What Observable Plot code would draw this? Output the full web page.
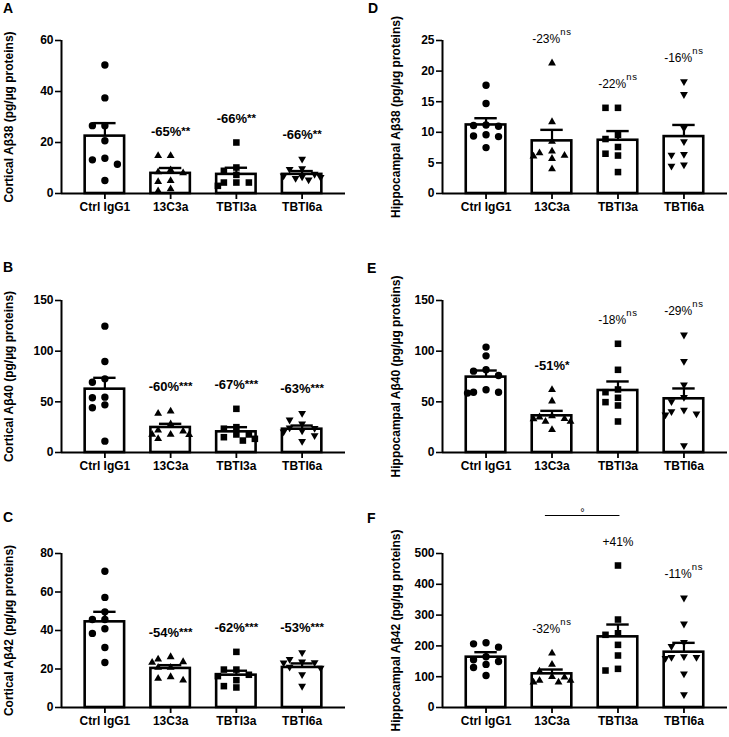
<!DOCTYPE html>
<html><head><meta charset="utf-8">
<script src="https://cdn.jsdelivr.net/npm/d3@7"></script>
<script src="https://cdn.jsdelivr.net/npm/@observablehq/plot@0.6"></script>
<style>
body{margin:0;background:#fff;}
#fig{position:relative;width:729px;height:737px;background:#fff;font-family:Arial,"Liberation Sans",sans-serif;color:#000;}
.panel{position:absolute;}
.letter{position:absolute;font-weight:bold;font-size:14px;line-height:14px;}
</style></head><body><div id="fig"></div>
<script>
// ---------- data ----------
const groups = ["Ctrl IgG1", "13C3a", "TBTI3a", "TBTI6a"];

// Panel A: Cortical Aβ38
const cortex38 = [
  [50.4, 37.5, 26.6, 26.6, 20.7, 13.8, 13.2, 11.5, 5.1],
  [14.8, 14.8, 9.2, 8.4, 8.0, 5.0, 4.6, 1.8, 1.0],
  [20.0, 10.2, 8.9, 7.3, 4.3, 4.3, 4.3, 3.0],
  [13.5, 9.8, 9.5, 7.6, 7.0, 6.6, 6.4, 6.0, 5.4]
];
const cortex38Mean = [22.5, 7.9, 7.5, 7.5];
const cortex38Sem = [5.1, 2.1, 2.6, 1.3];
const cortex38Pct = ["", "-65%", "-66%", "-66%"];
const cortex38Sig = ["", "**", "**", "**"];

// Panel B: Cortical Aβ40
const cortex40 = [
  [124.7, 89.8, 72.7, 69.4, 54.6, 54.0, 47.0, 44.1, 11.2],
  [40.8, 38.5, 28.0, 22.0, 21.0, 17.8, 17.8, 17.5, 13.5],
  [43.1, 25.0, 23.5, 17.8, 17.8, 15.1, 13.5, 11.8],
  [38.8, 32.2, 28.3, 24.5, 24.0, 21.5, 20.5, 16.8, 11.2]
];
const cortex40Mean = [62.5, 24.7, 20.4, 23.0];
const cortex40Sem = [11.2, 3.6, 4.6, 3.6];
const cortex40Pct = ["", "-60%", "-67%", "-63%"];
const cortex40Sig = ["", "***", "***", "***"];

// Panel C: Cortical Aβ42
const cortex42 = [
  [70.8, 57.2, 49.7, 45.7, 45.7, 40.9, 38.5, 31.2, 23.4],
  [26.3, 25.1, 23.7, 23.4, 20.8, 20.8, 15.9, 15.1, 14.2],
  [28.9, 19.7, 19.7, 17.0, 16.3, 14.2, 11.1, 10.4],
  [28.6, 25.1, 23.7, 23.4, 23.2, 21.0, 20.5, 17.1, 11.1]
];
const cortex42Mean = [44.5, 20.3, 16.8, 20.8];
const cortex42Sem = [5.2, 1.7, 2.3, 2.1];
const cortex42Pct = ["", "-54%", "-62%", "-53%"];
const cortex42Sig = ["", "***", "***", "***"];

// Panel D: Hippocampal Aβ38
const hippo38 = [
  [17.7, 14.7, 11.2, 11.1, 11.0, 9.6, 9.4, 9.3, 7.5],
  [21.3, 11.7, 8.5, 6.9, 6.6, 6.2, 6.1, 5.7, 4.0],
  [14.0, 14.0, 9.6, 8.9, 7.6, 6.5, 6.2, 3.5],
  [18.3, 16.2, 10.7, 8.5, 6.4, 6.3, 4.7, 4.5]
];
const hippo38Mean = [11.2, 8.6, 8.7, 9.3];
const hippo38Sem = [1.1, 1.8, 1.5, 1.9];
const hippo38Pct = ["", "-23%", "-22%", "-16%"];
const hippo38Sig = ["", "ns", "ns", "ns"];

// Panel E: Hippocampal Aβ40
const hippo40 = [
  [104.0, 95.4, 81.6, 80.3, 76.0, 61.9, 59.5, 59.5, 58.6],
  [61.9, 50.7, 36.0, 34.9, 33.2, 33.0, 30.6, 30.6, 22.4],
  [107.3, 81.6, 62.2, 59.5, 54.0, 49.7, 46.4, 30.6],
  [116.1, 90.1, 66.8, 54.6, 50.3, 42.0, 40.5, 38.2, 37.2, 6.9]
];
const hippo40Mean = [74.4, 36.2, 61.2, 53.0];
const hippo40Sem = [6.5, 4.9, 8.9, 10.2];
const hippo40Pct = ["", "-51%", "-18%", "-29%"];
const hippo40Sig = ["", "*", "ns", "ns"];

// Panel F: Hippocampal Aβ42
const hippo42 = [
  [210, 206.7, 195.9, 165, 155, 149.3, 140, 130, 103.9],
  [176.4, 139.6, 118, 100, 98, 87.6, 87.6, 82.2, 82.2],
  [461, 285.6, 241, 236, 203.4, 168.8, 125.5, 120.1],
  [356, 271.6, 212, 199, 165.5, 163.4, 163.4, 160, 109.3, 42.2]
];
const hippo42Mean = [163.4, 109.3, 229.4, 179.6];
const hippo42Sem = [16.2, 14.0, 40.0, 30.3];
const hippo42Pct = ["", "-32%", "+41%", "-11%"];
const hippo42Sig = ["", "ns", "", "ns"];
const hippo42Bracket = [{from: "13C3a", to: "TBTI3a", label: "°"}];

const panelLetters = ["A", "B", "C", "D", "E", "F"];
const panelTitles = [
  "Cortical Aβ38 (pg/µg proteins)",
  "Cortical Aβ40 (pg/µg proteins)",
  "Cortical Aβ42 (pg/µg proteins)",
  "Hippocampal Aβ38 (pg/µg proteins)",
  "Hippocampal Aβ40 (pg/µg proteins)",
  "Hippocampal Aβ42 (pg/µg proteins)"
];
const panelTicks = [
  [0, 20, 40, 60],
  [0, 50, 100, 150],
  [0, 20, 40, 60, 80],
  [0, 5, 10, 15, 20, 25],
  [0, 50, 100, 150],
  [0, 100, 200, 300, 400, 500]
];
const panelValues = [cortex38, cortex40, cortex42, hippo38, hippo40, hippo42];
const panelMeans = [cortex38Mean, cortex40Mean, cortex42Mean, hippo38Mean, hippo40Mean, hippo42Mean];
const panelSems = [cortex38Sem, cortex40Sem, cortex42Sem, hippo38Sem, hippo40Sem, hippo42Sem];
const panelPcts = [cortex38Pct, cortex40Pct, cortex42Pct, hippo38Pct, hippo40Pct, hippo42Pct];
const panelSigs = [cortex38Sig, cortex40Sig, cortex42Sig, hippo38Sig, hippo40Sig, hippo42Sig];
const panelBrackets = [[], [], [], [], [], hippo42Bracket];

// ---------- layout / style ----------
const FONT = "Arial, 'Liberation Sans', sans-serif";
const colLeft = [0, 365], colML = [61, 77], colMR = [19, 2], colTitleDx = [-52, -46];
const rowTop = [0, 245, 490], rowH = [245, 245, 247], rowMT = [40, 55, 63], rowFH = [153, 152, 154];
const letterPos = [[3, 1], [3, 260], [3, 510], [368, 1], [367, 261], [367, 511]];
const xDomain = [-0.66, 3.66];
const barHalf = 0.3, capHalf = 0.17;
const candidatePx = [0, -12.5, 12.5, -18.5, 18.5, -6.5, 6.5];

const sqrt3 = Math.sqrt(3);
const triUp = {draw(ctx, size) { size *= 0.62; const y = -Math.sqrt(size / (sqrt3 * 3)); ctx.moveTo(0, y * 2); ctx.lineTo(-sqrt3 * y, -y); ctx.lineTo(sqrt3 * y, -y); ctx.closePath(); }};
const triDown = {draw(ctx, size) { size *= 0.62; const y = -Math.sqrt(size / (sqrt3 * 3)); ctx.moveTo(0, -y * 2); ctx.lineTo(-sqrt3 * y, y); ctx.lineTo(sqrt3 * y, y); ctx.closePath(); }};
const symbols = [d3.symbolCircle, triUp, d3.symbolSquare, triDown];

// GraphPad-like scatter: place each point at the first horizontal slot where it does not overlap
function scatterOffsets(vals, pxPerUnit) {
  const order = d3.range(vals.length).sort((a, b) => vals[b] - vals[a]);
  const placed = [], off = new Array(vals.length).fill(0);
  for (const i of order) {
    const py = vals[i] * pxPerUnit;
    let best = 0, bestD = -1;
    for (const cx of candidatePx) {
      const d = placed.length ? d3.min(placed, q => Math.hypot(q.x - cx, q.y - py)) : Infinity;
      if (d >= 7.2) { best = cx; bestD = d; break; }
      if (d > bestD) { bestD = d; best = cx; }
    }
    off[i] = best; placed.push({x: best, y: py});
  }
  return off;
}

const fig = document.getElementById("fig");

panelLetters.forEach((letter, p) => {
  const c = p < 3 ? 0 : 1, r = p % 3;
  const W = 364, H = rowH[r], mt = rowMT[r], fh = rowFH[r], mb = H - mt - fh;
  const ticks = panelTicks[p], ymax = ticks[ticks.length - 1];
  const vals = panelValues[p];
  const pxPerUnit = fh / ymax;
  const pxPerX = (W - colML[c] - colMR[c]) / (xDomain[1] - xDomain[0]);

  const pts = [];
  vals.forEach((vs, gi) => {
    const off = scatterOffsets(vs, pxPerUnit);
    vs.forEach((v, j) => pts.push({g: groups[gi], v, xo: gi + off[j] / pxPerX}));
  });
  const bars = groups.map((g, gi) => ({g, i: gi, mean: panelMeans[p][gi], sem: panelSems[p][gi]}));
  const ann = groups.map((g, gi) => ({i: gi, pct: panelPcts[p][gi], sig: panelSigs[p][gi], top: d3.max(vals[gi])}))
    .filter(d => d.pct);
  const annText = d => d.sig ? d.pct + "^" + d.sig : d.pct;
  const isBold = d => /\*/.test(d.sig);
  const brackets = panelBrackets[p].map(b => {
    const i1 = groups.indexOf(b.from), i2 = groups.indexOf(b.to);
    return {x1: i1 - 0.1, x2: i2 + 0.03, xm: (i1 + i2) / 2 - 0.04, y: Math.max(d3.max(vals[i1]), d3.max(vals[i2])), label: b.label};
  });

  const svg = Plot.plot({
    width: W, height: H,
    marginLeft: colML[c], marginRight: colMR[c], marginTop: mt, marginBottom: mb,
    style: {fontFamily: FONT, fontSize: "12px", background: "white", overflow: "visible", color: "black"},
    x: {domain: xDomain},
    y: {domain: [0, ymax]},
    symbol: {domain: groups, range: symbols},
    marks: [
      Plot.rectY(bars, {x1: d => d.i - barHalf, x2: d => d.i + barHalf, y1: 0, y2: "mean", fill: "white", stroke: "black", strokeWidth: 2.6}),
      Plot.ruleX(bars, {x: "i", y1: "mean", y2: d => d.mean + d.sem, stroke: "black", strokeWidth: 2.2}),
      Plot.ruleY(bars, {x1: d => d.i - capHalf, x2: d => d.i + capHalf, y: d => d.mean + d.sem, stroke: "black", strokeWidth: 2.4}),
      Plot.ruleY([0], {stroke: "black", strokeWidth: 2}),
      Plot.ruleX([xDomain[0]], {y1: 0, y2: ymax, stroke: "black", strokeWidth: 2}),
      Plot.axisY({ticks, tickSize: 6, tickPadding: 2, fontWeight: "bold", fontSize: 12, strokeWidth: 1.6, label: null}),
      Plot.axisX({ticks: [0, 1, 2, 3], tickFormat: i => groups[i], tickSize: 6, tickPadding: 3, fontWeight: "bold", fontSize: 12, strokeWidth: 1.8, label: null}),
      Plot.dot(pts, {x: "xo", y: "v", symbol: "g", r: 3.7, fill: "black", stroke: "none"}),
      Plot.text(ann.filter(isBold), {x: "i", y: "top", text: annText, dy: -20, lineAnchor: "bottom", fontWeight: "bold", fontSize: 13}),
      Plot.text(ann.filter(d => !isBold(d)), {x: "i", y: "top", text: annText, dy: -20, lineAnchor: "bottom", fontWeight: "normal", fontSize: 12}),
      Plot.ruleY(brackets, {x1: "x1", x2: "x2", y: "y", dy: -50, stroke: "black", strokeWidth: 1}),
      Plot.text(brackets, {x: "xm", y: "y", text: "label", dy: -50, lineAnchor: "bottom", fontSize: 11}),
      Plot.text([panelTitles[p]], {text: d => d, frameAnchor: "left", textAnchor: "middle", lineAnchor: "middle", rotate: -90, dx: colTitleDx[c], fontWeight: "bold", fontSize: 12})
    ]
  });

  // superscripts for significance marks
  svg.querySelectorAll("text").forEach(el => {
    const t = el.textContent;
    if (!t.includes("^")) return;
    const [main, sup] = t.split("^");
    el.textContent = main;
    const ts = document.createElementNS("http://www.w3.org/2000/svg", "tspan");
    ts.textContent = sup;
    if (sup === "ns") {
      ts.setAttribute("font-size", "9.5");
      ts.setAttribute("dy", "-8");
      ts.setAttribute("letter-spacing", "0.8");
    } else {
      ts.setAttribute("font-size", "11.5");
      ts.setAttribute("dy", "-1");
    }
    el.appendChild(ts);
  });

  const div = document.createElement("div");
  div.className = "panel";
  div.style.left = colLeft[c] + "px";
  div.style.top = rowTop[r] + "px";
  div.appendChild(svg);
  fig.appendChild(div);

  const lab = document.createElement("div");
  lab.className = "letter";
  lab.textContent = letter;
  lab.style.left = letterPos[p][0] + "px";
  lab.style.top = letterPos[p][1] + "px";
  fig.appendChild(lab);
});
</script></body></html>
